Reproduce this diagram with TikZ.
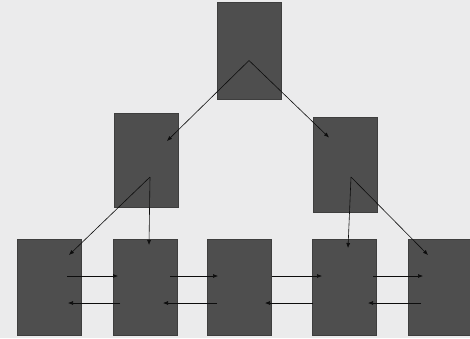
\documentclass[tikz,border=0pt]{standalone}
\usepackage{xcolor}
\usepackage{tikz}
\usetikzlibrary{arrows.meta}
\definecolor{paper}{HTML}{EBEBEC}
\definecolor{cell}{HTML}{4E4E4E}

\begin{document}
\begin{tikzpicture}[x=1pt,y=-1pt,
    cellbox/.style={fill=cell,draw=cell!80!black,minimum width=64pt,minimum height=96pt,inner sep=0pt},
    link/.style={line width=0.6pt,draw=black!95,-{Latex[length=5pt,width=4pt]}}]
  \fill[paper] (0,0) rectangle (470,338);
  \useasboundingbox (0,0) rectangle (470,338);
  % tree part
  \node[cellbox,minimum height=97pt] (root) at (249,50.5) {};
  \node[cellbox,minimum height=94pt] (left) at (146,160) {};
  \node[cellbox,minimum height=95pt] (right) at (345,164.5) {};
  % list part
  \node[cellbox] (n1) at (49.5,287) {};
  \node[cellbox] (n2) at (145,287) {};
  \node[cellbox] (n3) at (239.5,287) {};
  \node[cellbox] (n4) at (344.5,287) {};
  \node[cellbox] (n5) at (440,287) {};
  % pointers of the tree
  \draw[link] ([yshift=-10pt]root.center) -- ([xshift=21pt,yshift=19pt]left.center);
  \draw[link] ([yshift=-10pt]root.center) -- ([xshift=-16pt,yshift=27pt]right.center);
  \draw[link] ([xshift=4pt,yshift=-17pt]left.center) -- ([xshift=19.5pt,yshift=32pt]n1.center);
  \draw[link] ([xshift=4pt,yshift=-17pt]left.center) -- ([xshift=4pt,yshift=42pt]n2.center);
  \draw[link] ([xshift=6pt,yshift=-12.5pt]right.center) -- ([xshift=3.5pt,yshift=39pt]n4.center);
  \draw[link] ([xshift=6pt,yshift=-12.5pt]right.center) -- ([xshift=-12pt,yshift=32pt]n5.center);
  % forward pointers
  \draw[link] ([xshift=17.5pt,yshift=11pt]n1.center) -- ([xshift=-27pt,yshift=11pt]n2.center);
  \draw[link] ([xshift=25pt,yshift=11pt]n2.center) -- ([xshift=-21.5pt,yshift=11pt]n3.center);
  \draw[link] ([xshift=32.5pt,yshift=11pt]n3.center) -- ([xshift=-22.5pt,yshift=11pt]n4.center);
  \draw[link] ([xshift=28.5pt,yshift=11pt]n4.center) -- ([xshift=-17pt,yshift=11pt]n5.center);
  % backward pointers
  \draw[link] ([xshift=-25pt,yshift=-16pt]n2.center) -- ([xshift=18.5pt,yshift=-16pt]n1.center);
  \draw[link] ([xshift=-22.5pt,yshift=-16pt]n3.center) -- ([xshift=18pt,yshift=-16pt]n2.center);
  \draw[link] ([xshift=-31.5pt,yshift=-16pt]n4.center) -- ([xshift=25.5pt,yshift=-16pt]n3.center);
  \draw[link] ([xshift=-19pt,yshift=-16pt]n5.center) -- ([xshift=23.5pt,yshift=-16pt]n4.center);
\end{tikzpicture}
\end{document}
